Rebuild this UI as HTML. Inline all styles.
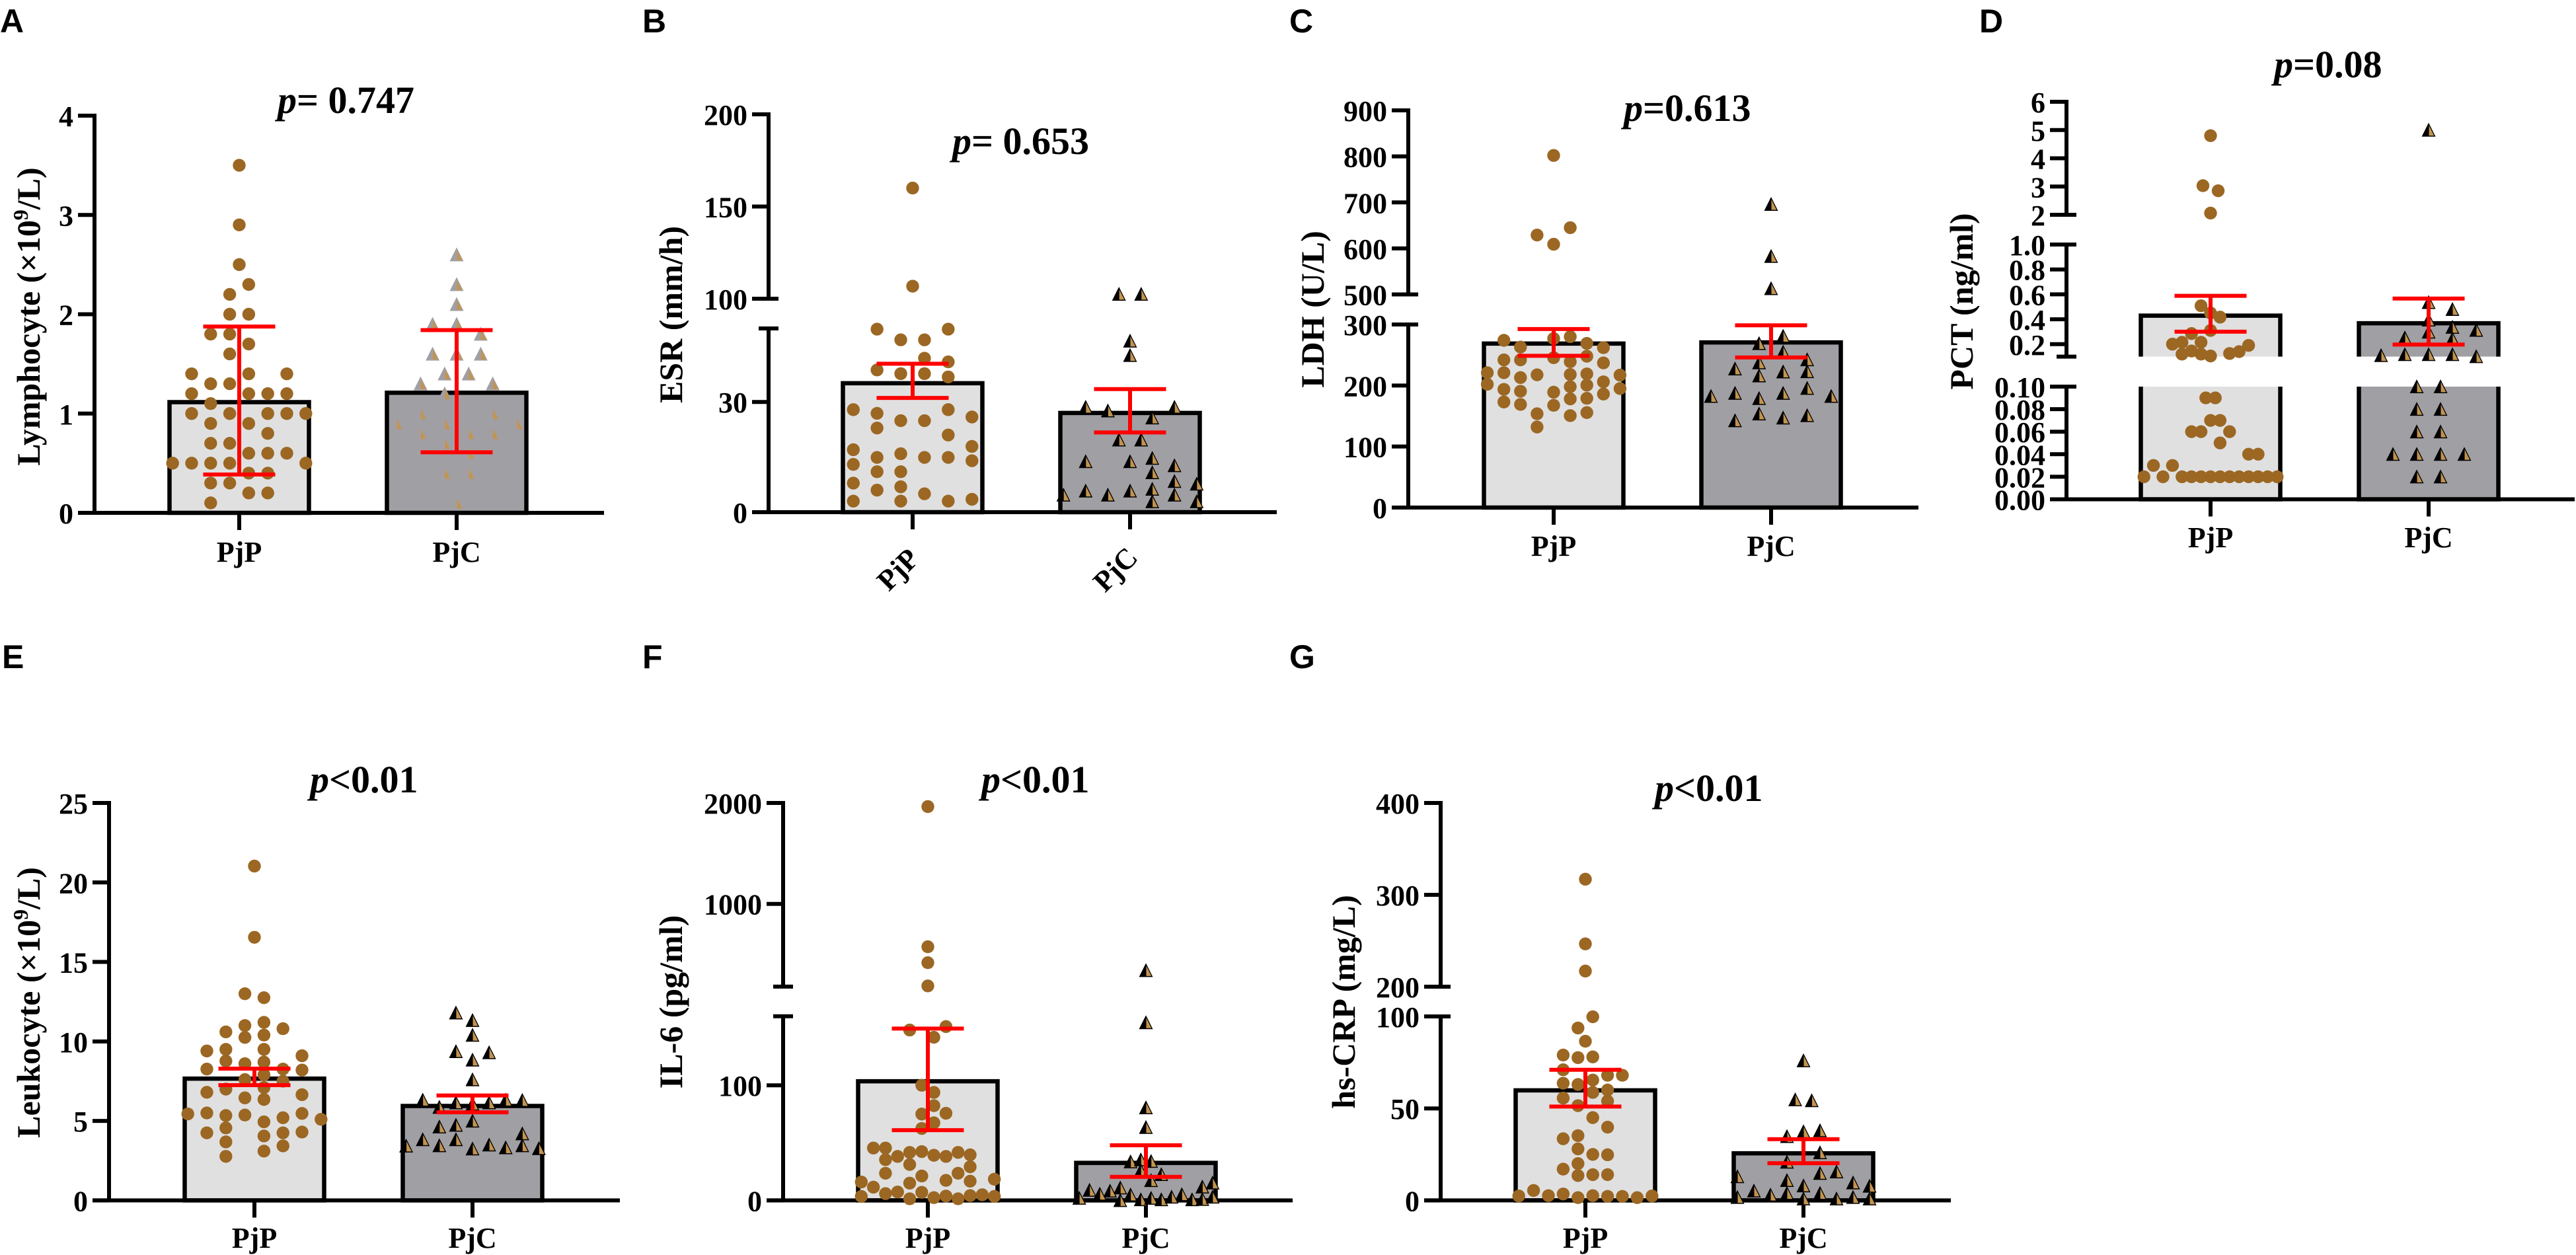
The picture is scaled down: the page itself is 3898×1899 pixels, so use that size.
<!DOCTYPE html>
<html lang="en">
<head>
<meta charset="utf-8">
<title>PjP vs PjC laboratory comparison</title>
<style>
html,body{margin:0;padding:0;background:#fff;width:3898px;height:1899px;overflow:hidden}
svg{display:block}
text{font-family:"Liberation Serif",serif;font-weight:bold;fill:#000}
.panel-letter{font-family:"Liberation Sans",sans-serif;font-size:50px}
.p-text{font-size:58px}
.p-text tspan.i{font-style:italic}
.y-title{font-size:50px}
.tick{font-size:44px}
.cat{font-size:44px}
</style>
</head>
<body>
<svg id="figure" xmlns="http://www.w3.org/2000/svg" width="3898" height="1899" viewBox="0 0 3898 1899">
  <rect width="3898" height="1899" fill="#fff"/>

  <text class="panel-letter" x="0" y="49">A</text>
  <text class="panel-letter" x="972" y="49">B</text>
  <text class="panel-letter" x="1951" y="49">C</text>
  <text class="panel-letter" x="2995" y="49">D</text>
  <text class="panel-letter" x="3" y="1011">E</text>
  <text class="panel-letter" x="972" y="1011">F</text>
  <text class="panel-letter" x="1951" y="1011">G</text>

  <text class="p-text" x="420" y="171"><tspan class="i">p</tspan>= 0.747</text>
  <text class="p-text" x="1441" y="233"><tspan class="i">p</tspan>= 0.653</text>
  <text class="p-text" x="2457" y="183"><tspan class="i">p</tspan>=0.613</text>
  <text class="p-text" x="3441" y="117"><tspan class="i">p</tspan>=0.08</text>
  <text class="p-text" x="469" y="1199"><tspan class="i">p</tspan>&lt;0.01</text>
  <text class="p-text" x="1485" y="1199"><tspan class="i">p</tspan>&lt;0.01</text>
  <text class="p-text" x="2504" y="1212"><tspan class="i">p</tspan>&lt;0.01</text>

  <text class="y-title" text-anchor="middle" transform="translate(60 479) rotate(-90)">Lymphocyte (×10<tspan font-size="32" dy="-18">9</tspan><tspan dy="18">/L)</tspan></text>
  <text class="y-title" text-anchor="middle" transform="translate(1032 476) rotate(-90)">ESR (mm/h)</text>
  <text class="y-title" text-anchor="middle" transform="translate(2003 468) rotate(-90)">LDH (U/L)</text>
  <text class="y-title" text-anchor="middle" transform="translate(2985 456) rotate(-90)">PCT (ng/ml)</text>
  <text class="y-title" text-anchor="middle" transform="translate(60 1517) rotate(-90)">Leukocyte (×10<tspan font-size="32" dy="-18">9</tspan><tspan dy="18">/L)</tspan></text>
  <text class="y-title" text-anchor="middle" transform="translate(1032 1516) rotate(-90)">IL-6 (pg/ml)</text>
  <text class="y-title" text-anchor="middle" transform="translate(2050 1516) rotate(-90)">hs-CRP (mg/L)</text>
</svg>

<script>
// Shared categories
const categories = ["PjP", "PjC"];

// Panel A: Lymphocyte
const A_tickValues = [0, 1, 2, 3, 4];
const A_tickLabels = ["0", "1", "2", "3", "4"];
const A_means = [1.115, 1.21];
const A_errLow = [0.386, 0.61];
const A_errHigh = [1.876, 1.84];
const A_pjpValues = [3.5,2.9,2.5,2.3,2.2,2,2,1.8,1.8,1.7,1.6,1.4,1.4,1.4,1.3,1.3,1.2,1.2,1.2,1.2,1.1,1,1,1,1,1,0.9,0.9,0.8,0.7,0.7,0.6,0.6,0.6,0.5,0.5,0.5,0.5,0.5,0.4,0.4,0.3,0.3,0.2,0.2,0.1];
const A_pjpSlots  = [0,0,0,1,-1,-1,1,-3,-1,1,-1,-5,1,5,-3,-1,-5,1,3,5,-3,-5,-1,3,5,7,-3,1,3,-3,-1,1,3,5,-7,-5,-3,-1,7,1,3,-3,-1,1,3,-3];
const A_pjcValues = [2.6,2.3,2.1,1.9,1.9,1.8,1.6,1.6,1.6,1.4,1.4,1.3,1.3,1.2,1,1,0.9,0.9,0.9,0.8,0.8,0.8,0.7,0.6,0.4,0.4,0.1];
const A_pjcSlots  = [0,0,0,-2,0,2,-2,0,2,-1,1,-3,3,-1,-3,3,-5,-1,5,-3,1,3,-1,1,-1,1,0];

// Panel B: ESR
const B_tickValues = [0, 30, 100, 150, 200];
const B_tickLabels = ["0", "30", "100", "150", "200"];
const B_means = [35.1, 27];
const B_errLow = [31.1, 21.7];
const B_errHigh = [40.4, 33.5];
const B_pjpValues = [160,106.8,49.8,49.8,46.9,46.9,41.9,40.9,38.7,37.7,37.7,36.8,27.9,27.9,26.9,25.9,24.9,24.9,22.9,21,17.9,17,15.9,14.9,14.9,14.9,14,13,11,11,7.9,6.9,6,5,3.5,3,3,3];
const B_pjpSlots  = [0,0,-3,3,-1,1,1,3,-3,-1,1,3,-5,3,-3,5,-1,1,-3,3,5,-5,-1,-3,1,3,5,-5,-3,-1,-5,-1,-3,1,5,-5,-1,3];
const B_pjcValues = [102.5,102.5,46.6,42.7,28.6,28.6,27.6,25.7,19.7,19.7,14.7,13.8,13.8,12.7,10.8,8.4,7.7,5.8,5.8,6.3,4.7,4.7,4.7,2.9,2.9];
const B_pjcSlots  = [-1,1,0,0,-4,4,-2,2,-1,1,2,-4,0,4,2,4,6,-4,0,2,-2,4,-6,2,6];

// Panel C: LDH
const C_tickValues = [0, 100, 200, 300, 500, 600, 700, 800, 900];
const C_tickLabels = ["0", "100", "200", "300", "500", "600", "700", "800", "900"];
const C_means = [268.7, 270.6];
const C_errLow = [248.7, 246];
const C_errHigh = [292.5, 298.7];
const C_pjpValues = [802,645,629,609,280,277,274,269,263,262,248,245.6,242,242,239,237,221,221,219,218,217.5,217,213,206,202,200.6,198,195,193.7,190.6,189,186,179,178,173,169,167.5,155.6,153.7,150.6,132];
const C_pjpSlots  = [0,1,-1,0,1,0,-3,2,-2,3,2,0,-2,-3,1,3,-4,-3,2,1,-1,4,-2,3,-4,2,1,4,-3,-2,0,3,2,1,-3,-2,0,2,-1,1,-1];
const C_pjcValues = [696,583,513,281,269,255,242.5,237.5,227.5,223,222.5,216,195.6,187.5,187.5,182.5,182.5,179,153.7,151,147,142.5];
const C_pjcSlots  = [0,0,0,1,-1,1,3,-1,-3,3,1,-1,3,-3,1,-5,5,-1,-1,3,1,-3];

// Panel D: PCT
const D_tickValues = [0, 0.02, 0.04, 0.06, 0.08, 0.1, 0.2, 0.4, 0.6, 0.8, 1, 2, 3, 4, 5, 6];
const D_tickLabels = ["0.00", "0.02", "0.04", "0.06", "0.08", "0.10", "0.2", "0.4", "0.6", "0.8", "1.0", "2", "3", "4", "5", "6"];
const D_means = [0.429, 0.368];
const D_errLow = [0.3, 0.197];
const D_errHigh = [0.588, 0.566];
const D_pjpValues = [4.8,3.03,2.85,2.06,0.508,0.45,0.417,0.31,0.285,0.215,0.215,0.2,0.19,0.145,0.14,0.125,0.12,0.12,0.105,0.09,0.09,0.07,0.07,0.06,0.06,0.06,0.05,0.04,0.04,0.03,0.03,0.02,0.02,0.02,0.02,0.02,0.02,0.02,0.02,0.02,0.02,0.02,0.02,0.02];
const D_pjpSlots  = [0,-0.8,0.8,0,-1,0,1,0,-2,-1,-3,-4,4,-2,3,2,-3,-1,0,-0.5,0.5,0,1,-2,-1,2,1,4,5,-6,-4,-7,-5,-3,-2,-1,0,1,2,3,4,5,6,7];
const D_pjcValues = [5,0.536,0.48,0.395,0.337,0.313,0.298,0.252,0.243,0.11,0.118,0.118,0.118,0.101,0.1,0.1,0.08,0.08,0.06,0.06,0.04,0.04,0.04,0.04,0.02,0.02];
const D_pjcSlots  = [0,0,2,0,2,4,0,-2,2,-4,-2,0,2,4,-1,1,-1,1,-1,1,-3,-1,1,3,-1,1];

// Panel E: Leukocyte
const E_tickValues = [0, 5, 10, 15, 20, 25];
const E_tickLabels = ["0", "5", "10", "15", "20", "25"];
const E_means = [7.66, 5.94];
const E_errLow = [7.25, 5.54];
const E_errHigh = [8.29, 6.6];
const E_pjpValues = [21.03,16.55,13,12.75,11.2,11,10.8,10.6,10.25,10.4,9.4,9.5,9.5,9.1,8.77,8.6,8.7,8.26,8.26,8.2,7.9,7.6,7.5,7.1,7,6.8,6.65,6.45,6.35,5.44,5.5,5.47,5.37,5.34,5.2,5.1,4.94,4.56,4.25,4.25,4.3,4.05,3.68,3.43,3.1,2.77];
const E_pjpSlots  = [0,0,-1,1,1,-1,3,-3,-1,1,-5,-3,1,5,-3,-1,1,-5,3,5,1,-1,3,1,-3,-5,5,-1,1,-7,-5,5,-1,-3,3,7,1,-3,3,-5,5,1,-3,3,1,-3];
const E_pjcValues = [11.8,11.33,10.4,9.37,9.3,8.84,7.6,6.32,6.15,6.07,6.15,6.32,6.3,5.87,5,4.74,4.63,4.2,3.83,3.83,3.45,3.5,3.45,3.43,3.25,3.32,3.27];
const E_pjcSlots  = [-1,0,0,-1,1,0,0,-3,-1,0,1,2,3,-2,0,-1,-2,3,-3,-1,-2,1,3,-4,0,2,4];

// Panel F: IL-6
const F_tickValues = [0, 100, 1000, 2000];
const F_tickLabels = ["0", "100", "1000", "2000"];
const F_means = [103.5, 32.6];
const F_errLow = [61, 20.5];
const F_errHigh = [149.3, 47.9];
const F_pjpValues = [1964,575,417,187,151,148,141.7,100,93.8,82.3,75.7,75,67.4,62.5,45.5,45.5,41.7,42.4,41.7,39.2,38.2,39.6,38.2,35.4,31.2,29.2,23.6,23.6,21.2,18.4,17.4,16.7,16,15,11.5,7,5.9,7.3,3.5,1.4,2.4,3.8,1.4,4.2,4.9,3.5];
const F_pjpSlots  = [0,0,0,0,3,-3,1,-1,1,1,3,-1,1,-1,-9,-7,-3,-1,5,1,3,7,-5,-7,-3,7,-7,5,-1,11,3,7,-11,-3,-9,-1,-7,-5,-11,-3,1,3,5,7,9,11];
const F_pjcValues = [341,154.5,80.6,63.5,33.7,35.4,34,26,22.6,17.4,15.3,11.8,9,11,8.3,5.6,4.9,5.2,2,0,0.7,2,0.7,3,0.7,1,3];
const F_pjcSlots  = [0,0,0,0,-3,-1,1,-1,3,1,13,11,-11,-5,-7,-9,-3,7,-13,-5,-1,1,3,5,9,11,13];

// Panel G: hs-CRP
const G_tickValues = [0, 50, 100, 200, 300, 400];
const G_tickLabels = ["0", "50", "100", "200", "300", "400"];
const G_means = [59.8, 25.6];
const G_errLow = [51, 20.2];
const G_errHigh = [71, 33.3];
const G_pjpValues = [317,246.6,217,99.8,93.7,86.5,79,77.6,78,71,68,68,65.4,63.7,63,60,58.7,55.6,54,51.5,45,39.8,35.2,33.5,28,25,24.8,20,17,13.5,14,14,5.4,3.5,2.6,2.4,2.6,2.2,2.2,2.4,1.5,1.5];
const G_pjpSlots  = [0,0,0,1,-1,0,-3,-1,1,-3,3,5,1,-3,-1,3,1,-3,3,-1,1,3,-1,-3,-1,1,3,-1,-3,-1,1,3,-7,-3,-5,-9,1,3,5,9,-1,7];
const G_pjcValues = [76,54.8,54.3,37.4,38,34.8,26,20.9,14.8,15.6,13,10.9,8,9.6,7.8,5.2,3,3.9,3.9,1.7,0.9,0.9,1.7,0.9];
const G_pjcSlots  = [0,-0.5,0.5,0,1,-1,1,-1,1,2,-4,-1,0,3,4,-3,-2,-1,1,-4,0,2,3,4];

// Layout only: pixel geometry for each panel and the value range of each axis segment
const panels = [
  {axisX:143,  xEnd:914,  centers:[362,691],   catY:850,
   segs:[{lo:0,hi:4,y0:776,y1:175}],
   ticks:A_tickValues, labels:A_tickLabels, means:A_means, low:A_errLow, high:A_errHigh,
   pjp:A_pjpValues, pjpSlot:A_pjpSlots, pjpStep:14.4, pjc:A_pjcValues, pjcSlot:A_pjcSlots, pjcStep:18.2, triDark:"#a19fa3"},
  {axisX:1163, xEnd:1932, centers:[1381,1710], catY:0, rotated:true,
   segs:[{lo:0,hi:50,y0:775,y1:497},{lo:100,hi:200,y0:452,y1:173}],
   ticks:B_tickValues, labels:B_tickLabels, means:B_means, low:B_errLow, high:B_errHigh,
   pjp:B_pjpValues, pjpSlot:B_pjpSlots, pjpStep:17.95, pjc:B_pjcValues, pjcSlot:B_pjcSlots, pjcStep:16.8, triDark:"#000"},
  {axisX:2131, xEnd:2903, centers:[2351,2680], catY:841,
   segs:[{lo:0,hi:300,y0:768,y1:491},{lo:500,hi:900,y0:445.5,y1:167}],
   ticks:C_tickValues, labels:C_tickLabels, means:C_means, low:C_errLow, high:C_errHigh,
   pjp:C_pjpValues, pjpSlot:C_pjpSlots, pjpStep:25.1, pjc:C_pjcValues, pjcSlot:C_pjcSlots, pjcStep:18.2, triDark:"#000"},
  {axisX:3127, xEnd:3896, centers:[3345,3675], catY:828,
   segs:[{lo:0,hi:0.1,y0:755.5,y1:585},{lo:0.1,hi:1,y0:539.6,y1:370},{lo:2,hi:6,y0:325,y1:154}],
   ticks:D_tickValues, labels:D_tickLabels, means:D_means, low:D_errLow, high:D_errHigh,
   pjp:D_pjpValues, pjpSlot:D_pjpSlots, pjpStep:14.4, pjc:D_pjcValues, pjcSlot:D_pjcSlots, pjcStep:18, triDark:"#000"},
  {axisX:165,  xEnd:938,  centers:[385,715],   catY:1888,
   segs:[{lo:0,hi:25,y0:1816.4,y1:1215}],
   ticks:E_tickValues, labels:E_tickLabels, means:E_means, low:E_errLow, high:E_errHigh,
   pjp:E_pjpValues, pjpSlot:E_pjpSlots, pjpStep:14.4, pjc:E_pjcValues, pjcSlot:E_pjcSlots, pjcStep:25.1, triDark:"#000"},
  {axisX:1185, xEnd:1956, centers:[1404,1734], catY:1888,
   segs:[{lo:0,hi:160,y0:1816.4,y1:1537.7},{lo:180,hi:2000,y0:1492.9,y1:1215}],
   ticks:F_tickValues, labels:F_tickLabels, means:F_means, low:F_errLow, high:F_errHigh,
   pjp:F_pjpValues, pjpSlot:F_pjpSlots, pjpStep:9.15, pjc:F_pjcValues, pjcSlot:F_pjcSlots, pjcStep:7.76, triDark:"#000"},
  {axisX:2180, xEnd:2952, centers:[2399,2729], catY:1888,
   segs:[{lo:0,hi:100,y0:1816.4,y1:1538},{lo:200,hi:400,y0:1493,y1:1215}],
   ticks:G_tickValues, labels:G_tickLabels, means:G_means, low:G_errLow, high:G_errHigh,
   pjp:G_pjpValues, pjpSlot:G_pjpSlots, pjpStep:11.2, pjc:G_pjcValues, pjcSlot:G_pjcSlots, pjcStep:25, triDark:"#000"}
];

const SVGNS = "http://www.w3.org/2000/svg";
const root = document.getElementById("figure");
function mk(tag, attrs, parent) {
  const el = document.createElementNS(SVGNS, tag);
  for (const k in attrs) el.setAttribute(k, attrs[k]);
  parent.appendChild(el);
  return el;
}
// piecewise y-axis function
function yScale(p, v) {
  let s = p.segs.find(function (q) { return v >= q.lo && v <= q.hi; });
  if (!s) {
    s = p.segs[0];
    for (const q of p.segs) if (v > q.hi) s = q;
  }
  return s.y0 + (v - s.lo) / (s.hi - s.lo) * (s.y1 - s.y0);
}

const BAR_W = 211, BAR_SW = 6.5, AXIS_SW = 6, CAP_W = 109;
const barFills = ["#e0e0e0", "#a09fa4"];

panels.forEach(function (p) {
  const g = mk("g", {}, root);
  
  

  const baseY = p.segs[0].y0;

  // bars
  p.means.forEach(function (m, i) {
    const x0 = p.centers[i] - BAR_W / 2, x1 = p.centers[i] + BAR_W / 2;
    p.segs.forEach(function (s, si) {
      if (m < s.lo) return;
      const isTop = m <= s.hi;
      const yB = s.y0, yT = isTop ? yScale(p, m) : s.y1;
      const fill = mk("rect", {x: x0, y: yT, width: BAR_W, height: yB - yT, fill: barFills[i]}, g);
      
      
      let d = "M" + x0 + " " + yB + "L" + x0 + " " + yT;
      if (isTop) d += "L" + x1 + " " + yT; else d += "M" + x1 + " " + yT;
      d += "L" + x1 + " " + yB;
      if (si === 0) d = "M" + x0 + " " + yT + (isTop ? "L" + x1 + " " + yT : "M" + x1 + " " + yT) + "L" + x1 + " " + yB + "L" + x0 + " " + yB + "Z";
      if (si === 0 && !isTop) d = "M" + x0 + " " + yT + "L" + x0 + " " + yB + "L" + x1 + " " + yB + "L" + x1 + " " + yT;
      const edge = mk("path", {d: d, fill: "none", stroke: "#000", "stroke-width": BAR_SW, "stroke-linejoin": "miter"}, g);
      
      
    });
  });

  // y axis segments
  p.segs.forEach(function (s, si) {
    const extra = si === p.segs.length - 1 ? AXIS_SW / 2 : 0;
    const line = mk("line", {x1: p.axisX, x2: p.axisX, y1: s.y0, y2: s.y1 - extra, stroke: "#000", "stroke-width": AXIS_SW}, g);
    
    
    // break end caps
    const ends = [];
    if (si > 0) ends.push(s.y0);
    if (si < p.segs.length - 1) ends.push(s.y1);
    ends.forEach(function (yy) {
      const cap = mk("line", {x1: p.axisX - 15, x2: p.axisX + 15, y1: yy, y2: yy, stroke: "#000", "stroke-width": AXIS_SW}, g);
      
      
    });
  });

  // y ticks and labels
  p.ticks.forEach(function (v, i) {
    const y = yScale(p, v);
    const t = mk("line", {x1: p.axisX - 25, x2: p.axisX, y1: y, y2: y, stroke: "#000", "stroke-width": AXIS_SW}, g);
    
    
    const lab = mk("text", {x: p.axisX - 32, y: y + 16, "text-anchor": "end", "class": "tick"}, g);
    lab.textContent = p.labels[i];
    
    
  });

  // x axis
  const xa = mk("line", {x1: p.axisX - 25, x2: p.xEnd, y1: baseY, y2: baseY, stroke: "#000", "stroke-width": AXIS_SW}, g);
  
  

  categories.forEach(function (c, i) {
    const cx = p.centers[i];
    const xt = mk("line", {x1: cx, x2: cx, y1: baseY, y2: baseY + 26, stroke: "#000", "stroke-width": AXIS_SW}, g);
    
    
    let lab;
    if (p.rotated) {
      lab = mk("text", {"text-anchor": "middle", "class": "cat", transform: "translate(" + (cx - 12) + " " + (baseY + 97) + ") rotate(-45)"}, g);
    } else {
      lab = mk("text", {x: cx, y: p.catY, "text-anchor": "middle", "class": "cat"}, g);
    }
    lab.textContent = c;
    
    
  });

  // PjP circles
  p.pjp.forEach(function (v, i) {
    const dot = mk("circle", {cx: p.centers[0] + p.pjpSlot[i] * p.pjpStep, cy: yScale(p, v), r: 9.7, fill: "#9b6723"}, g);
    
    
  });

  // PjC triangles
  p.pjc.forEach(function (v, i) {
    const x = p.centers[1] + p.pjcSlot[i] * p.pjcStep, y = yScale(p, v);
    const tg = mk("g", {}, g);
    
    
    mk("polygon", {points: (x - 10.5) + "," + (y + 10) + " " + x + "," + (y - 11) + " " + (x + 10.5) + "," + (y + 10), fill: p.triDark}, tg);
    mk("polygon", {points: (x + 0.5) + "," + (y - 7) + " " + (x + 8.3) + "," + (y + 8.5) + " " + (x + 0.5) + "," + (y + 8.5), fill: "#c3944f"}, tg);
  });

  // error bars
  p.means.forEach(function (m, i) {
    const cx = p.centers[i], yL = yScale(p, p.low[i]), yH = yScale(p, p.high[i]);
    const d = "M" + (cx - CAP_W / 2) + " " + yH + "H" + (cx + CAP_W / 2) + "M" + cx + " " + yH + "V" + yL + "M" + (cx - CAP_W / 2) + " " + yL + "H" + (cx + CAP_W / 2);
    const eb = mk("path", {d: d, fill: "none", stroke: "#fe0000", "stroke-width": 6}, g);
    
    
  });
});
</script>
</body>
</html>
